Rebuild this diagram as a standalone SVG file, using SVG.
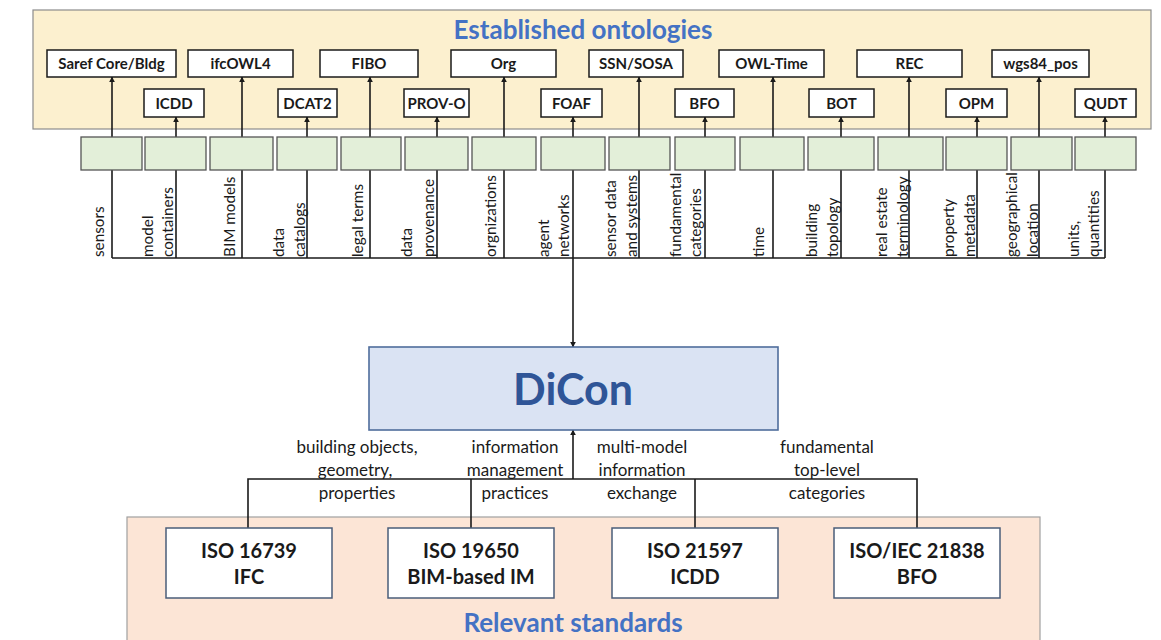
<svg xmlns="http://www.w3.org/2000/svg" width="1161" height="640" viewBox="0 0 1161 640">
  <style>
    text { font-family: Lato, "Open Sans", "Liberation Sans", sans-serif; fill: #1a1a1a; }
    .panel-top { fill: #fcf0cf; stroke: #8c8c8c; stroke-width: 1.2; }
    .panel-bot { fill: #fce5d6; stroke: #a0a0a0; stroke-width: 1.2; }
    .title { font-size: 26px; font-weight: 700; fill: #4472c4; text-anchor: middle; }
    .onto rect { fill: #ffffff; stroke: #1a1a1a; stroke-width: 1.5; }
    .onto text { font-size: 15px; font-weight: 700; text-anchor: middle; }
    .topic rect { fill: #e3efd9; stroke: #555555; stroke-width: 1.3; }
    .topic text { font-size: 15.3px; }
    .std rect { fill: #ffffff; stroke: #4a5d7a; stroke-width: 1.5; }
    .std text { font-size: 20px; font-weight: 700; text-anchor: middle; }
    .lbl { font-size: 17px; text-anchor: middle; }
    .wire { fill: none; stroke: #1a1a1a; stroke-width: 1.6; }
  </style>
  <defs>
    <marker id="arrow" viewBox="0 0 10 10" refX="9" refY="5" markerWidth="6" markerHeight="6" markerUnits="userSpaceOnUse" orient="auto">
      <path d="M0 0 L10 5 L0 10 z" fill="#1a1a1a"/>
    </marker>
  </defs>

  <!-- ontology panel -->
  <g id="panel-ontologies">
    <rect class="panel-top" x="33" y="10" width="1118" height="119"/>
    <text class="title" x="583" y="39">Established ontologies</text>
  </g>

  <!-- standards panel -->
  <g id="panel-standards">
    <rect class="panel-bot" x="127" y="517" width="913" height="130"/>
    <text class="title" x="573" y="632">Relevant standards</text>
  </g>

  <!-- connectors: ontology links, topic bus, DiCon links -->
  <g id="connectors" class="wire">
    <path marker-end="url(#arrow)" d="M112 258 V77"/>
    <path marker-end="url(#arrow)" d="M176 258 V117"/>
    <path marker-end="url(#arrow)" d="M242 258 V77"/>
    <path marker-end="url(#arrow)" d="M307 258 V117"/>
    <path marker-end="url(#arrow)" d="M370 258 V77"/>
    <path marker-end="url(#arrow)" d="M437 258 V117"/>
    <path marker-end="url(#arrow)" d="M504 258 V77"/>
    <path marker-end="url(#arrow)" d="M573 258 V117"/>
    <path marker-end="url(#arrow)" d="M639 258 V77"/>
    <path marker-end="url(#arrow)" d="M705 258 V117"/>
    <path marker-end="url(#arrow)" d="M773 258 V77"/>
    <path marker-end="url(#arrow)" d="M841 258 V117"/>
    <path marker-end="url(#arrow)" d="M909 258 V77"/>
    <path marker-end="url(#arrow)" d="M977 258 V117"/>
    <path marker-end="url(#arrow)" d="M1039 258 V77"/>
    <path marker-end="url(#arrow)" d="M1105 258 V117"/>
    <path d="M112 258 H1105"/>
    <path marker-end="url(#arrow)" d="M573 258 V347"/>
    <path d="M248 528 V479 H917 V528"/>
    <path d="M471 479 V528"/>
    <path d="M695 479 V528"/>
    <path marker-end="url(#arrow)" d="M573 479 V430"/>
  </g>

  <!-- established ontologies, upper row -->
  <g id="onto-saref" class="onto"><rect x="47" y="50" width="129" height="27"/><text x="111.5" y="69">Saref Core/Bldg</text></g>
  <g id="onto-ifcowl" class="onto"><rect x="188" y="50" width="105" height="27"/><text x="240.5" y="69">ifcOWL4</text></g>
  <g id="onto-fibo" class="onto"><rect x="320" y="50" width="98" height="27"/><text x="369" y="69">FIBO</text></g>
  <g id="onto-org" class="onto"><rect x="451" y="50" width="105" height="27"/><text x="503.5" y="69">Org</text></g>
  <g id="onto-ssn" class="onto"><rect x="589" y="50" width="94" height="27"/><text x="636" y="69">SSN/SOSA</text></g>
  <g id="onto-owltime" class="onto"><rect x="719" y="50" width="105" height="27"/><text x="771.5" y="69">OWL-Time</text></g>
  <g id="onto-rec" class="onto"><rect x="857" y="50" width="105" height="27"/><text x="909.5" y="69">REC</text></g>
  <g id="onto-wgs84" class="onto"><rect x="992" y="50" width="97" height="27"/><text x="1040.5" y="69">wgs84_pos</text></g>

  <!-- established ontologies, lower row -->
  <g id="onto-icdd" class="onto"><rect x="144" y="89" width="60" height="28"/><text x="174" y="109">ICDD</text></g>
  <g id="onto-dcat2" class="onto"><rect x="278" y="89" width="59" height="28"/><text x="307.5" y="109">DCAT2</text></g>
  <g id="onto-provo" class="onto"><rect x="404" y="89" width="65" height="28"/><text x="436.5" y="109">PROV-O</text></g>
  <g id="onto-foaf" class="onto"><rect x="541" y="89" width="61" height="28"/><text x="571.5" y="109">FOAF</text></g>
  <g id="onto-bfo" class="onto"><rect x="675" y="89" width="59" height="28"/><text x="704.5" y="109">BFO</text></g>
  <g id="onto-bot" class="onto"><rect x="809" y="89" width="65" height="28"/><text x="841.5" y="109">BOT</text></g>
  <g id="onto-opm" class="onto"><rect x="946" y="89" width="61" height="28"/><text x="976.5" y="109">OPM</text></g>
  <g id="onto-qudt" class="onto"><rect x="1075" y="89" width="61" height="28"/><text x="1105.5" y="109">QUDT</text></g>

  <!-- topic boxes with vertical captions -->
  <g id="topic-sensors" class="topic"><rect x="81" y="137" width="61" height="33"/>
    <text transform="translate(104 257) rotate(-90)">sensors</text></g>
  <g id="topic-containers" class="topic"><rect x="145" y="137" width="61" height="33"/>
    <text transform="translate(153 257) rotate(-90)">model</text>
    <text transform="translate(173 257) rotate(-90)">containers</text></g>
  <g id="topic-bim" class="topic"><rect x="210" y="137" width="63" height="33"/>
    <text transform="translate(235 257) rotate(-90)">BIM models</text></g>
  <g id="topic-catalogs" class="topic"><rect x="277" y="137" width="60" height="33"/>
    <text transform="translate(284 257) rotate(-90)">data</text>
    <text transform="translate(305 257) rotate(-90)">catalogs</text></g>
  <g id="topic-legal" class="topic"><rect x="341" y="137" width="60" height="33"/>
    <text transform="translate(363 257) rotate(-90)">legal terms</text></g>
  <g id="topic-provenance" class="topic"><rect x="405" y="137" width="63" height="33"/>
    <text transform="translate(412 257) rotate(-90)">data</text>
    <text transform="translate(434 257) rotate(-90)">provenance</text></g>
  <g id="topic-organizations" class="topic"><rect x="472" y="137" width="64" height="33"/>
    <text transform="translate(496 257) rotate(-90)">orgnizations</text></g>
  <g id="topic-agents" class="topic"><rect x="541" y="137" width="64" height="33"/>
    <text transform="translate(549 257) rotate(-90)">agent</text>
    <text transform="translate(569 257) rotate(-90)">networks</text></g>
  <g id="topic-sensordata" class="topic"><rect x="609" y="137" width="61" height="33"/>
    <text transform="translate(616 257) rotate(-90)">sensor data</text>
    <text transform="translate(637 257) rotate(-90)">and systems</text></g>
  <g id="topic-categories" class="topic"><rect x="675" y="137" width="60" height="33"/>
    <text transform="translate(681 257) rotate(-90)">fundamental</text>
    <text transform="translate(701 257) rotate(-90)">categories</text></g>
  <g id="topic-time" class="topic"><rect x="740" y="137" width="64" height="33"/>
    <text transform="translate(764 257) rotate(-90)">time</text></g>
  <g id="topic-topology" class="topic"><rect x="808" y="137" width="66" height="33"/>
    <text transform="translate(817 257) rotate(-90)">building</text>
    <text transform="translate(838 257) rotate(-90)">topology</text></g>
  <g id="topic-realestate" class="topic"><rect x="878" y="137" width="65" height="33"/>
    <text transform="translate(887 257) rotate(-90)">real estate</text>
    <text transform="translate(908 257) rotate(-90)">terminology</text></g>
  <g id="topic-property" class="topic"><rect x="946" y="137" width="61" height="33"/>
    <text transform="translate(954 257) rotate(-90)">property</text>
    <text transform="translate(975 257) rotate(-90)">metadata</text></g>
  <g id="topic-location" class="topic"><rect x="1011" y="137" width="61" height="33"/>
    <text transform="translate(1017 257) rotate(-90)">geographical</text>
    <text transform="translate(1038 257) rotate(-90)">location</text></g>
  <g id="topic-units" class="topic"><rect x="1075" y="137" width="61" height="33"/>
    <text transform="translate(1079 257) rotate(-90)">units,</text>
    <text transform="translate(1099 257) rotate(-90)">quantities</text></g>

  <!-- central ontology -->
  <g id="dicon">
    <rect x="369" y="347" width="409" height="83" fill="#dae3f3" stroke="#4f6d9c" stroke-width="1.6"/>
    <text x="573" y="405" font-size="43" font-weight="700" text-anchor="middle" style="fill:#2f5597">DiCon</text>
  </g>

  <!-- link captions between DiCon and the standards -->
  <g id="captions">
    <text class="lbl" x="357" y="453">building objects,</text>
    <text class="lbl" x="355" y="476">geometry,</text>
    <text class="lbl" x="357" y="499">properties</text>
    <text class="lbl" x="515" y="453">information</text>
    <text class="lbl" x="515" y="476">management</text>
    <text class="lbl" x="515" y="499">practices</text>
    <text class="lbl" x="642" y="453">multi-model</text>
    <text class="lbl" x="642" y="476">information</text>
    <text class="lbl" x="642" y="499">exchange</text>
    <text class="lbl" x="827" y="453">fundamental</text>
    <text class="lbl" x="827" y="476">top-level</text>
    <text class="lbl" x="827" y="499">categories</text>
  </g>

  <!-- standards -->
  <g id="std-iso16739" class="std"><rect x="166" y="528" width="166" height="70"/>
    <text x="249" y="558">ISO 16739</text><text x="249" y="584">IFC</text></g>
  <g id="std-iso19650" class="std"><rect x="388" y="528" width="166" height="70"/>
    <text x="471" y="558">ISO 19650</text><text x="471" y="584">BIM-based IM</text></g>
  <g id="std-iso21597" class="std"><rect x="612" y="528" width="166" height="70"/>
    <text x="695" y="558">ISO 21597</text><text x="695" y="584">ICDD</text></g>
  <g id="std-iso21838" class="std"><rect x="834" y="528" width="166" height="70"/>
    <text x="917" y="558">ISO/IEC 21838</text><text x="917" y="584">BFO</text></g>
</svg>
